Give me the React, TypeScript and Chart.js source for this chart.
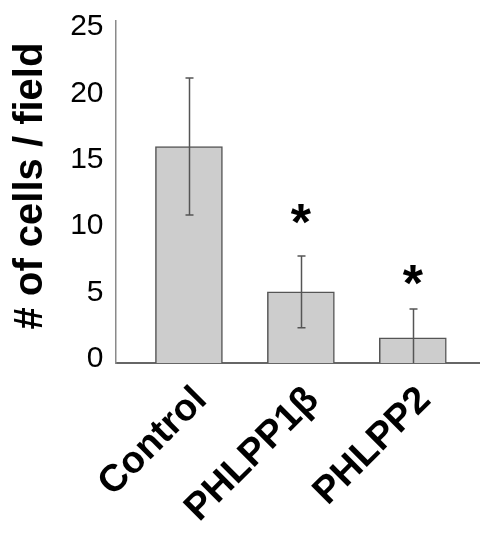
import React, { useEffect, useRef } from 'react';
import { Chart, registerables } from 'chart.js';

Chart.register(...registerables);

const categories = ['Control', 'PHLPP1β', 'PHLPP2'];
const means = [16.3, 5.35, 1.9];
const errors = [5.15, 2.7, 2.17];
const sigMarks = ['', '*', '*'];
const sigMarkY: (number | null)[] = [null, 11.25, 6.6];
const yTicks = [0, 5, 10, 15, 20, 25];
const yMin = 0;
const yMax = 25.75;
const xMin = -0.656;
const xMax = 2.6;
const yTitle = '# of cells / field';

const FONT = '"Liberation Sans", Arial, Helvetica, sans-serif';

const errorBarPlugin = {
  id: 'errorBars',
  afterDatasetsDraw(chart: any) {
    const { ctx, chartArea, scales } = chart;
    const xs = scales.x;
    const ys = scales.y;
    ctx.save();
    ctx.beginPath();
    ctx.rect(chartArea.left, chartArea.top - 40, chartArea.right - chartArea.left, chartArea.bottom - chartArea.top + 40);
    ctx.clip();
    ctx.strokeStyle = '#555';
    ctx.lineWidth = 1.5;
    const cap = 4;
    means.forEach((m, i) => {
      const x = Math.round(xs.getPixelForValue(i)) + 0.5;
      const yTop = ys.getPixelForValue(m + errors[i]);
      const yBot = ys.getPixelForValue(m - errors[i]);
      ctx.beginPath();
      ctx.moveTo(x, yTop);
      ctx.lineTo(x, yBot);
      ctx.moveTo(x - cap, yTop);
      ctx.lineTo(x + cap, yTop);
      if (m - errors[i] >= yMin) {
        ctx.moveTo(x - cap, yBot);
        ctx.lineTo(x + cap, yBot);
      }
      ctx.stroke();
    });
    ctx.restore();

    ctx.save();
    ctx.fillStyle = '#000';
    ctx.font = `bold 52px ${FONT}`;
    ctx.textAlign = 'center';
    ctx.textBaseline = 'alphabetic';
    sigMarks.forEach((s, i) => {
      const v = sigMarkY[i];
      if (!s || v === null) return;
      const x = xs.getPixelForValue(i);
      const cy = ys.getPixelForValue(v);
      const mt = ctx.measureText(s);
      const asc = mt.actualBoundingBoxAscent;
      const desc = mt.actualBoundingBoxDescent;
      ctx.fillText(s, x, cy + (asc - desc) / 2);
    });
    ctx.restore();

    // y-axis title
    ctx.save();
    ctx.fillStyle = '#000';
    ctx.font = `bold 40px ${FONT}`;
    ctx.textAlign = 'center';
    ctx.textBaseline = 'middle';
    ctx.translate(31, 186);
    ctx.rotate(-Math.PI / 2);
    ctx.fillText(yTitle, 0, 0);
    ctx.restore();
  },
};

export default function App() {
  const canvasRef = useRef<HTMLCanvasElement | null>(null);

  useEffect(() => {
    const canvas = canvasRef.current;
    if (!canvas) return;
    const chart = new Chart(canvas, {
      type: 'bar',
      data: {
        datasets: [
          {
            data: categories.map((_, i) => ({ x: i, y: means[i] })),
            backgroundColor: '#cdcdcd',
            borderColor: '#555',
            borderWidth: 1.5,
            barThickness: 67,
          },
        ],
      },
      options: {
        responsive: false,
        animation: false,
        events: [],
        layout: { padding: { top: 21, left: 0, right: 0, bottom: 0 } },
        plugins: {
          legend: { display: false },
          tooltip: { enabled: false },
        },
        scales: {
          x: {
            type: 'linear',
            min: xMin,
            max: xMax,
            bounds: 'data',
            offset: false,
            grace: 0,
            grid: { display: false, drawTicks: false, offset: false },
            border: { display: true, color: '#666', width: 2 },
            afterBuildTicks: (scale: any) => {
              scale.ticks = categories.map((_, i) => ({ value: i }));
            },
            afterFit: (scale: any) => {
              scale.height = 171;
              scale.paddingLeft = 0;
              scale.paddingRight = 0;
            },
            ticks: {
              autoSkip: false,
              includeBounds: false,
              minRotation: 45,
              maxRotation: 45,
              padding: 15,
              labelOffset: 12,
              color: '#000',
              font: { family: FONT, size: 38, weight: 'bold' },
              callback: (v: any) => categories[v as number] ?? '',
            },
          },
          y: {
            type: 'linear',
            min: yMin,
            max: yMax,
            bounds: 'data',
            grid: { display: false, drawTicks: false },
            border: { display: true, color: '#8a8a8a', width: 1.5 },
            afterBuildTicks: (scale: any) => {
              scale.ticks = yTicks.map((v) => ({ value: v }));
            },
            afterFit: (scale: any) => {
              scale.width = 115.5;
              scale.paddingTop = 0;
              scale.paddingBottom = 0;
            },
            ticks: {
              includeBounds: false,
              padding: 12,
              labelOffset: -4,
              color: '#000',
              font: { family: FONT, size: 30 },
            },
            title: { display: false },
          },
        },
      },
      plugins: [errorBarPlugin],
    } as any);
    return () => chart.destroy();
  }, []);

  return (
    <div style={{ position: 'absolute', left: 0, top: 0, width: 480, height: 534, background: '#fff' }}>
      <canvas ref={canvasRef} width={480} height={534} style={{ display: 'block' }} />
    </div>
  );
}
